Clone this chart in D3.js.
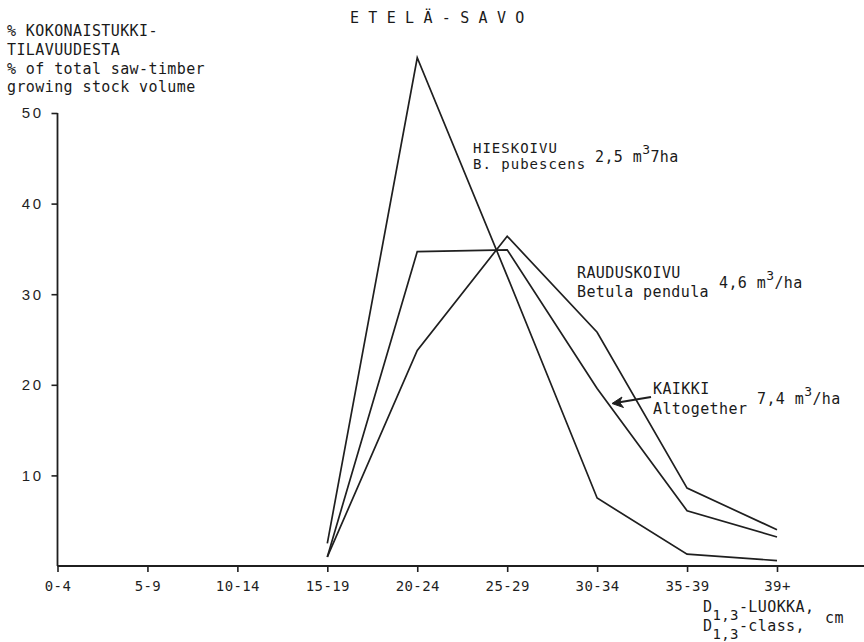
<!DOCTYPE html>
<html>
<head>
<meta charset="utf-8">
<script src="https://cdn.jsdelivr.net/npm/d3@7"></script>
<style>
  html, body { margin: 0; padding: 0; background: #fff; }
  svg { display: block; }
  .mono { font-family: "DejaVu Sans Mono", monospace; font-size: 15px; letter-spacing: 0.4px; fill: #1a1a1a; }
</style>
</head>
<body>
<svg id="chart" width="864" height="642"></svg>
<script>
// ---- data ----
const categories = ["0-4", "5-9", "10-14", "15-19", "20-24", "25-29", "30-34", "35-39", "39+"];
const hieskoivu   = [null, null, null, 2.5, 56.1, 32.0, 7.5, 1.3, 0.6];
const rauduskoivu = [null, null, null, 1.0, 23.8, 36.4, 25.8, 8.6, 4.0];
const kaikki      = [null, null, null, 1.0, 34.7, 34.9, 19.6, 6.1, 3.2];
const yTicks = [10, 20, 30, 40, 50];

const svg = d3.select("#chart");
const ink = "#1f1f1f";

const x = d3.scalePoint().domain(categories).range([57.5, 777]);
const y = d3.scaleLinear().domain([0, 50]).range([566, 113]);

// ---- axes ----
const xAxis = svg.append("g")
  .attr("transform", `translate(0,${y(0)})`)
  .call(d3.axisBottom(x).tickSize(6).tickSizeOuter(0).tickPadding(9));
xAxis.select(".domain").remove();
xAxis.selectAll(".tick line").attr("stroke", ink).attr("stroke-width", 1.6);
xAxis.selectAll(".tick text")
  .attr("fill", ink)
  .style("font-family", "DejaVu Sans Mono, monospace")
  .style("font-size", "14px")
  .style("letter-spacing", "0.4px");

svg.append("line")
  .attr("x1", x(categories[0])).attr("x2", 864)
  .attr("y1", y(0)).attr("y2", y(0))
  .attr("stroke", ink).attr("stroke-width", 1.8);

const yAxis = svg.append("g")
  .attr("transform", `translate(${x(categories[0])},0)`)
  .call(d3.axisLeft(y).tickValues(yTicks).tickSize(6).tickSizeOuter(0).tickPadding(8));
yAxis.select(".domain").remove();
yAxis.selectAll(".tick line").attr("stroke", ink).attr("stroke-width", 1.6);
yAxis.selectAll(".tick text")
  .attr("fill", ink)
  .style("font-family", "Liberation Sans, Arial, sans-serif")
  .style("font-size", "15px")
  .style("letter-spacing", "2.5px");

svg.append("line")
  .attr("x1", x(categories[0])).attr("x2", x(categories[0]))
  .attr("y1", y(50)).attr("y2", y(0))
  .attr("stroke", ink).attr("stroke-width", 1.8);

// ---- lines ----
const line = d3.line()
  .defined(d => d != null)
  .x((d, i) => x(categories[i]))
  .y(d => y(d));

[hieskoivu, rauduskoivu, kaikki].forEach(series => {
  svg.append("path")
    .datum(series)
    .attr("fill", "none")
    .attr("stroke", ink)
    .attr("stroke-width", 1.7)
    .attr("stroke-linejoin", "miter")
    .attr("d", line);
});

// ---- texts ----
function text(xp, yp, str) {
  return svg.append("text").attr("class", "mono").attr("x", xp).attr("y", yp).text(str);
}
function volume(xp, yp, num, tail) {
  const t = svg.append("text").attr("class", "mono").attr("x", xp).attr("y", yp);
  t.append("tspan").text(num + " m");
  t.append("tspan").attr("dy", -8).style("font-size", "13px").text("3");
  t.append("tspan").attr("dy", 8).text(tail);
}

text(350, 23, "E T E L Ä - S A V O").style("letter-spacing", "0.15px");

text(7, 36, "% KOKONAISTUKKI-");
text(7, 55, "TILAVUUDESTA");
text(7, 74, "% of total saw-timber");
text(7, 92, "growing stock volume");

text(473, 152.5, "HIESKOIVU").style("font-size", "14px").style("letter-spacing", "1px");
text(473, 169, "B. pubescens").style("font-size", "14px").style("letter-spacing", "1px");
volume(595, 162, "2,5", "7ha");

text(577, 278, "RAUDUSKOIVU");
text(577, 297, "Betula pendula");
volume(719, 288, "4,6", "/ha");

text(653, 394, "KAIKKI");
text(653, 414, "Altogether");
volume(757, 404, "7,4", "/ha");

// arrow pointing to KAIKKI line
svg.append("line")
  .attr("x1", 651).attr("y1", 397).attr("x2", 618).attr("y2", 402.5)
  .attr("stroke", ink).attr("stroke-width", 2.2);
svg.append("path")
  .attr("d", "M612,403.5 L622,397 L619.5,402.3 L623.5,407.5 Z")
  .attr("fill", ink).attr("stroke", ink).attr("stroke-width", 1);

// x axis title
function dClass(xp, yp, tail) {
  const t = svg.append("text").attr("class", "mono").attr("x", xp).attr("y", yp);
  t.append("tspan").text("D");
  t.append("tspan").attr("dy", 8).style("font-size", "14px").text("1,3");
  t.append("tspan").attr("dy", -8).text(tail);
}
dClass(703, 612, "-LUOKKA,");
dClass(703, 631, "-class,");
text(825, 623, "cm");
</script>
</body>
</html>
